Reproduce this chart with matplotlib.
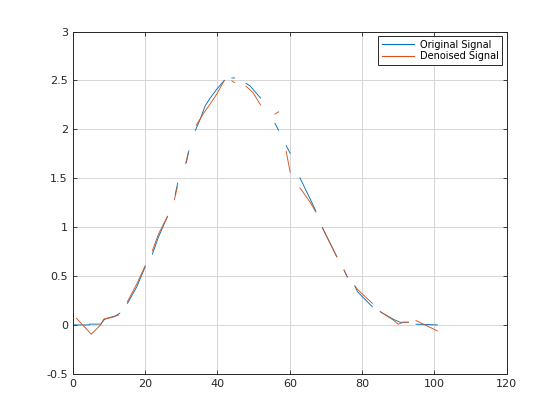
import numpy as np
import matplotlib
matplotlib.use("Agg")
import matplotlib.pyplot as plt

nan = np.nan

# original signal (blue), gaps are NaN
orig_x = [0.4, 4.5, 4.6, 7.7, 8.6, 9.6, 11.7, 13.0, nan,
          15.1, 17.7, 20.0, nan, 22.0, 23.7, 26.2, nan,
          28.3, 29.0, nan, 31.4, 32.1, nan,
          33.9, 35.2, 36.6, 38.0, 39.8, 41.9, nan, 44.0, 44.7, nan,
          47.9, 49.0, 51.9, nan, 55.9, 56.9, nan, 59.0, 60.1, nan,
          62.8, 65.6, 67.2, nan, 69.0, 73.0, nan, 75.0, 75.9, nan,
          78.0, 78.7, 82.8, nan, 85.0, 88.6, 90.5, 92.8, nan, 94.9, 100.8]
orig_y = [0.0, 0.0, 0.008, 0.008, 0.05, 0.07, 0.09, 0.12, nan,
          0.22, 0.39, 0.594, nan, 0.723, 0.90, 1.11, nan,
          1.33, 1.45, nan, 1.66, 1.78, nan,
          1.99, 2.10, 2.24, 2.32, 2.41, 2.50, nan, 2.525, 2.525, nan,
          2.47, 2.444, 2.32, nan, 2.06, 1.99, nan, 1.833, 1.755, nan,
          1.504, 1.29, 1.164, nan, 0.995, 0.696, nan, 0.56, 0.49, nan,
          0.397, 0.34, 0.186, nan, 0.135, 0.058, 0.027, 0.027, nan, 0.007, 0.0]

# denoised signal (red)
den_x = [1.0, 5.1, 7.7, 8.6, 10.7, 12.6, nan,
         15.1, 17.7, 20.0, nan, 22.0, 23.7, 26.2, nan,
         28.1, 28.9, nan, 31.2, 31.9, nan,
         34.1, 36.1, 38.0, 39.8, 41.9, nan, 44.0, 44.7, nan,
         47.9, 49.8, 51.9, nan, 55.9, 56.9, nan, 59.0, 60.1, nan,
         62.8, 65.6, 67.2, nan, 69.0, 73.0, nan, 75.0, 75.9, nan,
         78.0, 78.9, 82.8, nan, 85.0, 88.6, 90.0, 91.4, 92.8, nan, 94.9, 100.8]
den_y = [0.068, -0.095, 0.0, 0.061, 0.074, 0.10, nan,
         0.237, 0.42, 0.604, nan, 0.757, 0.93, 1.11, nan,
         1.28, 1.41, nan, 1.65, 1.76, nan,
         2.04, 2.16, 2.26, 2.36, 2.50, nan, 2.495, 2.478, nan,
         2.44, 2.376, 2.25, nan, 2.156, 2.179, nan, 1.775, 1.561, nan,
         1.402, 1.256, 1.154, nan, 0.995, 0.696, nan, 0.56, 0.49, nan,
         0.397, 0.356, 0.221, nan, 0.135, 0.05, 0.007, 0.027, 0.027, nan, 0.044, -0.061]

xticks = [0, 20, 40, 60, 80, 100, 120]
yticks = [-0.5, 0, 0.5, 1, 1.5, 2, 2.5, 3]

fig = plt.figure(figsize=(5.6, 4.2), dpi=100)
ax = fig.add_axes([0.13, 0.11, 0.775, 0.815])

ax.plot(orig_x, orig_y, color="#0072BD", lw=0.65, label="Original Signal")
ax.plot(den_x, den_y, color="#D95319", lw=0.65, label="Denoised Signal")

ax.set_xlim(0, 120)
ax.set_ylim(-0.5, 3)
ax.set_xticks(xticks)
ax.set_yticks(yticks)
ax.set_yticklabels(["-0.5", "0", "0.5", "1", "1.5", "2", "2.5", "3"])
ax.grid(True, color="#d6d6d6", lw=0.7)
ax.set_axisbelow(True)

for sp in ax.spines.values():
    sp.set_color("#262626")
    sp.set_linewidth(0.7)
ax.tick_params(direction="in", length=3, width=0.6, top=True, right=True,
               colors="#262626", labelsize=8)

leg = ax.legend(loc="upper right", fontsize=7, fancybox=False, framealpha=1,
                edgecolor="#262626", borderaxespad=0.5, handlelength=3.3,
                handletextpad=0.6, borderpad=0.35, labelspacing=0.15)
leg.get_frame().set_linewidth(0.7)
for ln in leg.get_lines():
    ln.set_linewidth(0.8)

fig.savefig("out.png", dpi=100)
